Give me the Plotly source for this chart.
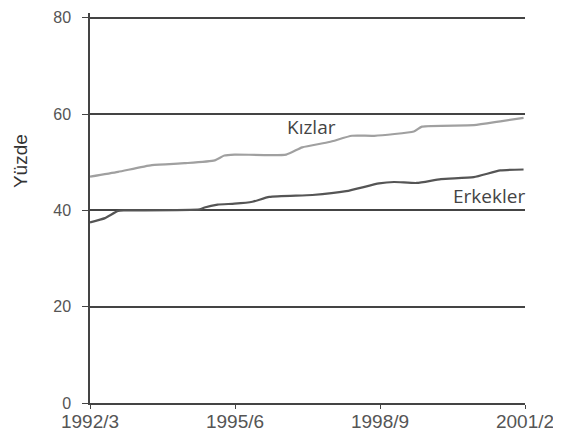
import plotly.graph_objects as go

# Academic years expressed as decimal start year (1992 = 1992/3)
kizlar_x = [1992.0, 1992.58, 1993.28, 1993.96, 1994.58, 1994.78, 1994.99, 1996.06, 1996.39,
            1996.95, 1997.42, 1997.88, 1998.70, 1998.87, 1999.94, 2000.49, 2000.97]
kizlar_y = [47.0, 48.0, 49.4, 49.8, 50.4, 51.4, 51.6, 51.6, 53.1,
            54.2, 55.5, 55.5, 56.4, 57.4, 57.7, 58.5, 59.2]

erkekler_x = [1992.0, 1992.31, 1992.58, 1992.72, 1994.27, 1994.37, 1994.64, 1994.99, 1995.36,
              1995.71, 1996.60, 1997.30, 1997.98, 1998.29, 1998.76, 1999.26, 1999.94, 2000.49, 2000.97]
erkekler_y = [37.5, 38.4, 39.9, 40.0, 40.2, 40.6, 41.2, 41.4, 41.8,
              42.8, 43.2, 44.0, 45.6, 45.9, 45.7, 46.5, 46.9, 48.3, 48.5]

tick_vals = [1992, 1995, 1998, 2001]
tick_text = ["1992/3", "1995/6", "1998/9", "2001/2"]
y_ticks = [0, 20, 40, 60, 80]

fig = go.Figure()
fig.add_trace(go.Scatter(x=kizlar_x, y=kizlar_y, mode="lines", name="Kızlar",
                         line=dict(color="#a0a0a0", width=2.2, shape="spline", smoothing=0.5)))
fig.add_trace(go.Scatter(x=erkekler_x, y=erkekler_y, mode="lines", name="Erkekler",
                         line=dict(color="#555555", width=2.2, shape="spline", smoothing=0.5)))

fig.add_annotation(x=1996.59, y=57.3, text="Kızlar", showarrow=False,
                   font=dict(family="Open Sans", size=19, color="#444444"))
fig.add_annotation(x=2000.26, y=43.0, text="Erkekler", showarrow=False,
                   font=dict(family="Open Sans", size=19, color="#444444"))
fig.add_annotation(xref="paper", yref="paper", x=-0.158, y=0.621, text="Yüzde",
                   textangle=-90, showarrow=False, xanchor="center", yanchor="middle",
                   font=dict(family="Liberation Sans", size=19, color="#333333"))

# page body adds an 8px offset, so the figure is sized to fill the rest of the window
fig.update_layout(
    width=553, height=432,
    margin=dict(l=82, r=36, t=5, b=37),
    paper_bgcolor="white", plot_bgcolor="white",
    showlegend=False,
    font=dict(family="Liberation Sans", color="#555555"),
)
fig.update_xaxes(range=[1992, 2001], tickvals=tick_vals, ticktext=tick_text, automargin=False,
                 showgrid=False, zeroline=False, showline=True, linecolor="#444444", linewidth=1.5,
                 ticks="outside", ticklen=4, tickcolor="#444444", ticklabeloverflow="allow",
                 ticklabelstandoff=-4,
                 tickfont=dict(size=19, color="#555555"))
fig.update_yaxes(range=[0, 81], tickvals=y_ticks, showgrid=True, gridcolor="#444444", gridwidth=1.5,
                 automargin=False,
                 zeroline=False, showline=True, linecolor="#444444", linewidth=1.5,
                 ticks="outside", ticklen=6, tickcolor="#444444", ticklabelstandoff=8,
                 ticklabeloverflow="allow",
                 tickfont=dict(size=16, color="#555555"))

fig.write_html("out.html")
